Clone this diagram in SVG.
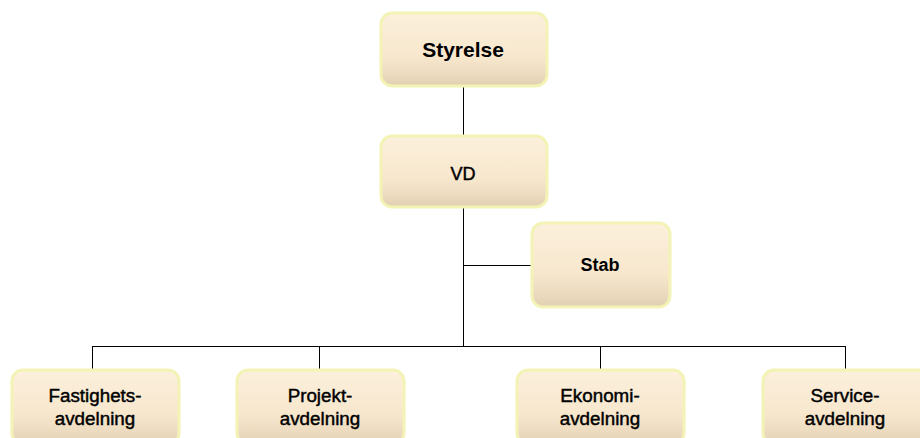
<svg xmlns="http://www.w3.org/2000/svg" width="920" height="438" viewBox="0 0 920 438">
<defs>
<linearGradient id="fill" x1="0" y1="0" x2="0" y2="1">
<stop offset="0" stop-color="#fcf0dc"/>
<stop offset="0.6" stop-color="#f7e7cd"/>
<stop offset="0.85" stop-color="#ebdabe"/>
<stop offset="1" stop-color="#e0cfb0"/>
</linearGradient>
</defs>
<style>
.box{fill:url(#fill);stroke:#f3f3b6;stroke-width:3}
.t{font-family:"Liberation Sans",Arial,sans-serif;fill:#000;text-anchor:middle}
.b{font-weight:bold}
.m{stroke:#000;stroke-width:0.45}
.conn{stroke:#000;stroke-width:1;fill:none}
</style>
<rect width="920" height="438" fill="#fff"/>
<g id="connectors">
<path class="conn" d="M463.5 87V135M463.5 208V346M463.5 265.5H532M92.5 346.5H845.5M92.5 346V370M319.5 346V370M600.5 346V370M845.5 346V370"/>
</g>
<g id="styrelse">
<rect class="box" x="381" y="13" width="166" height="73" rx="11"/>
<text class="t b" x="463" y="57" font-size="21">Styrelse</text>
</g>
<g id="vd">
<rect class="box" x="381" y="136" width="166" height="71" rx="11"/>
<text class="t m" x="463" y="180" font-size="18">VD</text>
</g>
<g id="stab">
<rect class="box" x="532" y="223" width="138" height="84" rx="11"/>
<text class="t b" x="600" y="271" font-size="18">Stab</text>
</g>
<g id="fastighets">
<rect class="box" x="12" y="370" width="167" height="74" rx="11"/>
<text class="t m" x="95" y="402" font-size="18.8">Fastighets-</text>
<text class="t m" x="95" y="425" font-size="18.8">avdelning</text>
</g>
<g id="projekt">
<rect class="box" x="237" y="370" width="167" height="74" rx="11"/>
<text class="t m" x="320" y="402" font-size="18.8">Projekt-</text>
<text class="t m" x="320" y="425" font-size="18.8">avdelning</text>
</g>
<g id="ekonomi">
<rect class="box" x="517" y="370" width="167" height="74" rx="11"/>
<text class="t m" x="600" y="402" font-size="18.8">Ekonomi-</text>
<text class="t m" x="600" y="425" font-size="18.8">avdelning</text>
</g>
<g id="service">
<rect class="box" x="763" y="370" width="167" height="74" rx="11"/>
<text class="t m" x="845" y="402" font-size="18.8">Service-</text>
<text class="t m" x="845" y="425" font-size="18.8">avdelning</text>
</g>
</svg>
